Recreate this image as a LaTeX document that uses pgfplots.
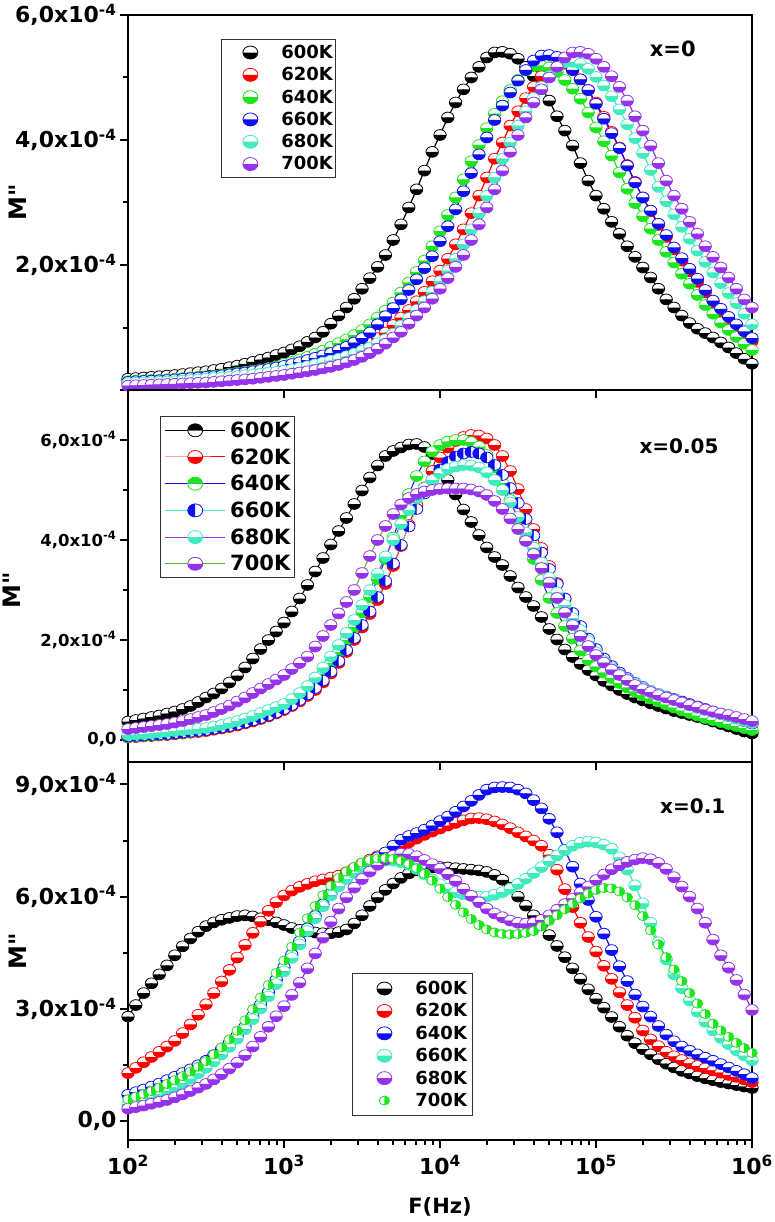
\documentclass[border=0pt]{standalone}
\usepackage{fontspec}
\setmainfont{DejaVu Sans}
\usepackage{pgfplots}
\pgfplotsset{compat=1.18}
\usepackage{pgfplotstable}
\usetikzlibrary{plotmarks}
\definecolor{cred}{RGB}{255,0,0}
\definecolor{cgreen}{RGB}{30,230,30}
\definecolor{cblue}{RGB}{15,15,245}
\definecolor{ccyan}{RGB}{64,235,190}
\definecolor{cpurple}{RGB}{150,50,235}
\definecolor{colive}{RGB}{100,170,40}
\newcommand{\yl}[1]{#1x10\textsuperscript{-4}}
\newcommand{\Mpp}{{\addfontfeature{Ligatures=TeXOff}M"}}

% M'' in units of 1e-4 ; F in Hz
\pgfplotstableread{
F K600 K620 K640 K660 K680 K700
1.000e2 0.18 0.11 0.14 0.13 0.11 0.07
1.122e2 0.19 0.115 0.15 0.14 0.115 0.075
1.259e2 0.20 0.12 0.15 0.145 0.12 0.08
1.413e2 0.21 0.125 0.16 0.15 0.125 0.085
1.585e2 0.22 0.13 0.16 0.155 0.13 0.09
1.778e2 0.23 0.135 0.17 0.16 0.135 0.095
1.995e2 0.24 0.14 0.18 0.17 0.14 0.10
2.239e2 0.255 0.15 0.19 0.18 0.15 0.105
2.512e2 0.27 0.155 0.20 0.19 0.16 0.11
2.818e2 0.285 0.16 0.21 0.20 0.17 0.115
3.162e2 0.30 0.17 0.22 0.21 0.18 0.12
3.548e2 0.32 0.18 0.23 0.22 0.19 0.13
3.981e2 0.34 0.19 0.245 0.235 0.20 0.14
4.467e2 0.365 0.20 0.26 0.25 0.21 0.15
5.012e2 0.39 0.21 0.275 0.265 0.22 0.16
5.623e2 0.42 0.22 0.29 0.28 0.235 0.17
6.310e2 0.45 0.235 0.31 0.30 0.25 0.18
7.079e2 0.485 0.25 0.33 0.32 0.26 0.195
7.943e2 0.52 0.265 0.35 0.335 0.28 0.21
8.913e2 0.56 0.28 0.375 0.36 0.29 0.225
1.000e3 0.60 0.30 0.42 0.385 0.31 0.24
1.122e3 0.65 0.32 0.45 0.415 0.33 0.26
1.259e3 0.70 0.345 0.49 0.445 0.355 0.28
1.413e3 0.77 0.375 0.53 0.48 0.38 0.30
1.585e3 0.84 0.405 0.58 0.515 0.41 0.32
1.778e3 0.93 0.44 0.63 0.555 0.44 0.345
1.995e3 1.06 0.48 0.69 0.59 0.47 0.37
2.239e3 1.19 0.52 0.75 0.64 0.50 0.40
2.512e3 1.32 0.57 0.81 0.69 0.54 0.44
2.818e3 1.46 0.62 0.88 0.76 0.58 0.48
3.162e3 1.62 0.68 0.96 0.83 0.63 0.53
3.548e3 1.79 0.75 1.05 0.92 0.68 0.59
3.981e3 1.97 0.83 1.16 1.05 0.75 0.66
4.467e3 2.16 0.92 1.27 1.18 0.81 0.74
5.012e3 2.40 1.04 1.40 1.31 0.90 0.84
5.623e3 2.65 1.16 1.56 1.45 1.03 0.93
6.310e3 2.92 1.28 1.72 1.60 1.15 1.06
7.079e3 3.21 1.42 1.89 1.77 1.28 1.19
7.943e3 3.51 1.57 2.07 1.95 1.42 1.32
8.913e3 3.81 1.74 2.30 2.14 1.57 1.46
1.000e4 4.08 1.91 2.54 2.38 1.74 1.62
1.122e4 4.36 2.10 2.80 2.62 1.91 1.79
1.259e4 4.60 2.33 3.08 2.89 2.10 1.97
1.413e4 4.81 2.57 3.37 3.18 2.33 2.16
1.585e4 5.00 2.83 3.66 3.47 2.57 2.40
1.778e4 5.17 3.11 3.92 3.77 2.83 2.65
1.995e4 5.32 3.40 4.19 4.04 3.11 2.92
2.239e4 5.40 3.70 4.42 4.32 3.40 3.21
2.512e4 5.41 3.96 4.62 4.55 3.70 3.51
2.818e4 5.38 4.23 4.80 4.76 3.96 3.81
3.162e4 5.30 4.46 4.96 4.95 4.23 4.08
3.548e4 5.17 4.67 5.11 5.12 4.46 4.36
3.981e4 5.02 4.85 5.18 5.27 4.67 4.60
4.467e4 4.85 5.02 5.19 5.35 4.85 4.81
5.012e4 4.63 5.16 5.16 5.36 5.02 5.00
5.623e4 4.38 5.24 5.09 5.33 5.16 5.17
6.310e4 4.15 5.22 4.96 5.25 5.24 5.32
7.079e4 3.91 5.12 4.82 5.12 5.25 5.40
7.943e4 3.63 4.97 4.66 4.97 5.22 5.41
8.913e4 3.35 4.80 4.44 4.80 5.14 5.38
1.000e5 3.11 4.60 4.20 4.58 5.01 5.30
1.122e5 2.90 4.37 3.98 4.34 4.87 5.17
1.259e5 2.69 4.13 3.75 4.11 4.70 5.02
1.413e5 2.50 3.88 3.48 3.87 4.49 4.85
1.585e5 2.30 3.60 3.22 3.59 4.25 4.63
1.778e5 2.13 3.33 2.99 3.32 4.03 4.38
1.995e5 1.96 3.08 2.78 3.08 3.79 4.15
2.239e5 1.80 2.86 2.58 2.87 3.52 3.91
2.512e5 1.62 2.64 2.40 2.66 3.25 3.63
2.818e5 1.45 2.45 2.21 2.48 3.02 3.35
3.162e5 1.32 2.25 2.04 2.28 2.81 3.11
3.548e5 1.19 2.07 1.86 2.11 2.61 2.90
3.981e5 1.07 1.90 1.70 1.94 2.42 2.69
4.467e5 0.98 1.73 1.52 1.78 2.23 2.50
5.012e5 0.91 1.56 1.36 1.60 2.05 2.30
5.623e5 0.84 1.40 1.22 1.43 1.88 2.13
6.310e5 0.76 1.26 1.08 1.30 1.71 1.96
7.079e5 0.68 1.13 0.96 1.17 1.55 1.80
7.943e5 0.59 1.00 0.85 1.05 1.39 1.62
8.913e5 0.50 0.89 0.74 0.94 1.22 1.45
1.000e6 0.42 0.78 0.64 0.83 1.05 1.32
}\tabA

\pgfplotstableread{
F K600 K620 K640 K660 K680 K700
1.000e2 0.37 0.05 0.06 0.07 0.10 0.22
1.122e2 0.40 0.06 0.07 0.08 0.11 0.24
1.259e2 0.43 0.07 0.08 0.09 0.12 0.26
1.413e2 0.46 0.08 0.09 0.10 0.135 0.28
1.585e2 0.49 0.09 0.10 0.11 0.15 0.30
1.778e2 0.53 0.10 0.115 0.12 0.165 0.32
1.995e2 0.57 0.115 0.13 0.135 0.18 0.35
2.239e2 0.62 0.13 0.145 0.15 0.195 0.38
2.512e2 0.68 0.145 0.16 0.165 0.21 0.42
2.818e2 0.76 0.16 0.18 0.18 0.225 0.46
3.162e2 0.85 0.18 0.205 0.20 0.24 0.50
3.548e2 0.93 0.205 0.23 0.225 0.27 0.56
3.981e2 1.03 0.23 0.26 0.25 0.30 0.62
4.467e2 1.15 0.26 0.29 0.28 0.34 0.69
5.012e2 1.29 0.29 0.33 0.31 0.38 0.77
5.623e2 1.45 0.33 0.37 0.35 0.43 0.85
6.310e2 1.63 0.37 0.42 0.39 0.48 0.94
7.079e2 1.82 0.42 0.47 0.44 0.54 1.03
7.943e2 2.00 0.47 0.53 0.49 0.60 1.12
8.913e2 2.17 0.53 0.60 0.55 0.66 1.21
1.000e3 2.35 0.60 0.68 0.62 0.72 1.30
1.122e3 2.57 0.68 0.77 0.70 0.82 1.42
1.259e3 2.83 0.77 0.88 0.80 0.94 1.54
1.413e3 3.10 0.88 1.00 0.91 1.08 1.67
1.585e3 3.37 1.00 1.15 1.04 1.25 1.87
1.778e3 3.64 1.15 1.33 1.19 1.45 2.08
1.995e3 3.91 1.33 1.54 1.37 1.67 2.30
2.239e3 4.18 1.54 1.76 1.58 1.90 2.53
2.512e3 4.44 1.76 2.00 1.80 2.14 2.76
2.818e3 4.72 2.00 2.26 2.04 2.40 3.00
3.162e3 4.99 2.25 2.55 2.30 2.70 3.34
3.548e3 5.25 2.52 2.86 2.57 3.00 3.68
3.981e3 5.49 2.80 3.22 2.86 3.33 4.00
4.467e3 5.68 3.12 3.62 3.18 3.67 4.28
5.012e3 5.78 3.48 4.05 3.53 4.00 4.52
5.623e3 5.85 3.88 4.50 3.90 4.32 4.71
6.310e3 5.91 4.30 4.92 4.27 4.60 4.84
7.079e3 5.92 4.70 5.28 4.62 4.84 4.92
7.943e3 5.86 5.05 5.57 4.93 5.04 4.97
8.913e3 5.72 5.38 5.77 5.20 5.20 5.00
1.000e4 5.50 5.65 5.90 5.41 5.33 5.02
1.122e4 5.20 5.85 5.97 5.56 5.42 5.03
1.259e4 4.91 5.98 6.00 5.67 5.47 5.03
1.413e4 4.61 6.06 6.00 5.73 5.50 5.03
1.585e4 4.36 6.10 5.96 5.76 5.49 5.01
1.778e4 4.10 6.09 5.87 5.73 5.45 4.97
1.995e4 3.85 6.03 5.70 5.65 5.35 4.90
2.239e4 3.66 5.90 5.45 5.50 5.20 4.78
2.512e4 3.50 5.68 5.14 5.30 5.00 4.62
2.818e4 3.28 5.38 4.80 5.04 4.75 4.43
3.162e4 3.05 5.02 4.42 4.74 4.46 4.22
3.548e4 2.86 4.62 4.02 4.42 4.15 3.98
3.981e4 2.68 4.22 3.62 4.09 3.85 3.72
4.467e4 2.46 3.84 3.20 3.75 3.55 3.44
5.012e4 2.22 3.48 2.84 3.42 3.25 3.15
5.623e4 2.01 3.14 2.54 3.12 2.95 2.84
6.310e4 1.81 2.82 2.28 2.83 2.70 2.55
7.079e4 1.66 2.52 2.03 2.54 2.44 2.30
7.943e4 1.52 2.25 1.79 2.28 2.20 2.08
8.913e4 1.40 2.00 1.60 2.03 1.98 1.88
1.000e5 1.29 1.79 1.47 1.82 1.75 1.70
1.122e5 1.18 1.61 1.35 1.63 1.58 1.55
1.259e5 1.09 1.46 1.24 1.48 1.44 1.41
1.413e5 1.00 1.33 1.14 1.35 1.32 1.30
1.585e5 0.92 1.22 1.05 1.24 1.22 1.20
1.778e5 0.85 1.13 0.97 1.14 1.13 1.10
1.995e5 0.79 1.05 0.90 1.06 1.05 1.02
2.239e5 0.73 0.97 0.83 0.98 0.98 0.96
2.512e5 0.68 0.91 0.77 0.92 0.92 0.90
2.818e5 0.63 0.86 0.71 0.87 0.86 0.85
3.162e5 0.58 0.81 0.65 0.82 0.81 0.80
3.548e5 0.54 0.76 0.59 0.77 0.75 0.75
3.981e5 0.50 0.71 0.54 0.72 0.69 0.70
4.467e5 0.46 0.66 0.49 0.67 0.64 0.66
5.012e5 0.42 0.61 0.44 0.62 0.60 0.61
5.623e5 0.37 0.56 0.40 0.57 0.56 0.57
6.310e5 0.32 0.51 0.36 0.52 0.52 0.53
7.079e5 0.27 0.47 0.32 0.48 0.48 0.50
7.943e5 0.22 0.42 0.28 0.43 0.43 0.46
8.913e5 0.17 0.37 0.24 0.38 0.38 0.42
1.000e6 0.13 0.32 0.20 0.33 0.34 0.38
}\tabB

\pgfplotstableread{
F K600 K620 K640 K660 K680 K700
1.000e2 2.79 1.28 0.70 0.45 0.33 0.58
1.122e2 3.10 1.42 0.77 0.50 0.37 0.65
1.259e2 3.42 1.57 0.84 0.56 0.41 0.72
1.413e2 3.68 1.71 0.92 0.63 0.46 0.80
1.585e2 3.92 1.85 1.00 0.71 0.51 0.89
1.778e2 4.16 1.99 1.09 0.80 0.56 0.99
1.995e2 4.43 2.14 1.18 0.90 0.63 1.09
2.239e2 4.67 2.35 1.28 1.01 0.71 1.20
2.512e2 4.88 2.58 1.38 1.13 0.80 1.32
2.818e2 5.06 2.84 1.49 1.27 0.89 1.45
3.162e2 5.21 3.12 1.61 1.42 0.99 1.60
3.548e2 5.31 3.42 1.76 1.59 1.11 1.78
3.981e2 5.38 3.73 1.92 1.78 1.25 1.97
4.467e2 5.43 4.04 2.09 1.98 1.40 2.18
5.012e2 5.48 4.37 2.28 2.20 1.56 2.41
5.623e2 5.50 4.71 2.52 2.45 1.76 2.69
6.310e2 5.47 5.03 2.80 2.72 1.99 2.99
7.079e2 5.42 5.33 3.11 3.01 2.25 3.30
7.943e2 5.37 5.62 3.44 3.33 2.52 3.63
8.913e2 5.31 5.85 3.78 3.66 2.80 3.96
1.000e3 5.24 6.03 4.11 4.00 3.07 4.29
1.122e3 5.16 6.16 4.45 4.36 3.37 4.66
1.259e3 5.11 6.26 4.80 4.72 3.70 5.04
1.413e3 5.07 6.34 5.15 5.08 4.08 5.42
1.585e3 5.04 6.41 5.48 5.42 4.48 5.75
1.778e3 5.02 6.46 5.79 5.74 4.90 6.04
1.995e3 5.02 6.51 6.08 6.03 5.33 6.29
2.239e3 5.05 6.56 6.32 6.27 5.68 6.50
2.512e3 5.12 6.65 6.51 6.47 5.98 6.67
2.818e3 5.28 6.76 6.67 6.63 6.24 6.80
3.162e3 5.50 6.88 6.81 6.76 6.47 6.91
3.548e3 5.75 6.99 6.93 6.86 6.67 6.98
3.981e3 5.98 7.08 7.05 6.93 6.85 7.02
4.467e3 6.18 7.17 7.18 6.96 6.99 7.03
5.012e3 6.35 7.26 7.36 6.96 7.09 7.01
5.623e3 6.50 7.35 7.52 6.92 7.15 6.96
6.310e3 6.62 7.45 7.62 6.85 7.14 6.87
7.079e3 6.70 7.55 7.70 6.74 7.08 6.76
7.943e3 6.75 7.65 7.79 6.60 6.98 6.61
8.913e3 6.78 7.74 7.90 6.46 6.87 6.43
1.000e4 6.79 7.82 8.02 6.33 6.75 6.21
1.122e4 6.78 7.90 8.14 6.21 6.60 5.99
1.259e4 6.76 7.97 8.27 6.12 6.42 5.78
1.413e4 6.74 8.04 8.41 6.06 6.21 5.58
1.585e4 6.72 8.09 8.56 6.02 6.02 5.40
1.778e4 6.70 8.10 8.72 6.00 5.85 5.24
1.995e4 6.66 8.07 8.86 6.00 5.68 5.12
2.239e4 6.58 8.01 8.92 6.05 5.55 5.04
2.512e4 6.45 7.93 8.93 6.12 5.45 5.00
2.818e4 6.24 7.83 8.92 6.21 5.36 4.99
3.162e4 6.00 7.72 8.86 6.34 5.30 5.00
3.548e4 5.76 7.61 8.76 6.48 5.28 5.03
3.981e4 5.50 7.50 8.58 6.63 5.30 5.08
4.467e4 5.25 7.36 8.36 6.79 5.38 5.20
5.012e4 4.97 7.12 8.08 6.95 5.50 5.35
5.623e4 4.68 6.72 7.72 7.10 5.65 5.50
6.310e4 4.38 6.20 7.25 7.24 5.80 5.66
7.079e4 4.08 5.72 6.80 7.36 5.95 5.81
7.943e4 3.80 5.30 6.35 7.44 6.11 5.95
8.913e4 3.52 4.92 5.91 7.47 6.27 6.08
1.000e5 3.27 4.53 5.46 7.45 6.44 6.18
1.122e5 3.03 4.15 5.01 7.39 6.59 6.23
1.259e5 2.78 3.80 4.57 7.28 6.73 6.22
1.413e5 2.52 3.44 4.14 7.05 6.84 6.14
1.585e5 2.28 3.10 3.74 6.72 6.93 5.98
1.778e5 2.08 2.76 3.38 6.30 6.99 5.77
1.995e5 1.92 2.42 3.06 5.82 7.03 5.48
2.239e5 1.78 2.18 2.79 5.30 7.00 5.10
2.512e5 1.65 2.00 2.54 4.78 6.90 4.72
2.818e5 1.53 1.85 2.31 4.32 6.74 4.38
3.162e5 1.43 1.73 2.13 3.92 6.52 4.05
3.548e5 1.34 1.63 1.99 3.55 6.27 3.74
3.981e5 1.27 1.54 1.88 3.22 6.00 3.42
4.467e5 1.20 1.47 1.78 2.92 5.68 3.14
5.012e5 1.14 1.41 1.69 2.65 5.30 2.86
5.623e5 1.09 1.35 1.61 2.42 4.85 2.60
6.310e5 1.04 1.29 1.52 2.22 4.43 2.42
7.079e5 1.00 1.23 1.43 2.05 4.10 2.25
7.943e5 0.96 1.18 1.34 1.89 3.77 2.09
8.913e5 0.92 1.11 1.25 1.75 3.38 1.95
1.000e6 0.88 1.04 1.15 1.62 2.97 1.82
}\tabC

\pgfplotsset{
  hc/.style={mark=halfcircle*, mark size=5.4pt,
    mark options={draw=#1, fill=white, mark color=#1, line width=0.8pt, solid, xscale=1.15}},
  hcD/.style={mark=halfcircle*, mark size=5.4pt,
    mark options={draw=#1, fill=white, mark color=#1, line width=0.8pt, solid, xscale=1.15, rotate=180}},
  hcL/.style={mark=halfcircle*, mark size=5.4pt,
    mark options={draw=#1, fill=white, mark color=#1, line width=0.8pt, solid, xscale=1.15, rotate=90}},
  hcR/.style={mark=halfcircle*, mark size=5.4pt,
    mark options={draw=#1, fill=white, mark color=#1, line width=0.8pt, solid, xscale=1.15, rotate=-90}},
}

\begin{document}
\begin{tikzpicture}
\path[use as bounding box] (0pt,0pt) rectangle (774pt,-1222pt);

% ---------------- panel 1 : x=0 ----------------
\begin{axis}[xmode=log, xmin=100, xmax=1e6,
  scale only axis, width=624pt, height=375pt,
  at={(128pt,-390pt)}, anchor=south west,
  axis line style={line width=2.6pt},
  tick style={black, line width=2pt},
  tick align=outside, tick pos=left,
  major tick length=8pt, minor tick length=5pt,
  minor x tick style={draw=none},
  axis on top,
  ymin=0, ymax=6,
  ytick={0,2,4,6}, yticklabels={,{\yl{2,0}},{\yl{4,0}},{\yl{6,0}}},
  minor ytick={1,3,5},
  yticklabel style={font=\fontsize{22}{22}\selectfont\bfseries},
  xtick={1e3,1e4,1e5}, xticklabels={,,},
  ylabel={\Mpp},
  ylabel style={at={(axis description cs:-0.176,0.5)}, anchor=center, font=\fontsize{24}{24}\selectfont\bfseries},
  legend cell align=left,
  legend image code/.code={\path[draw=none,fill=none] (0pt,-11.15pt) rectangle (55pt,11.15pt);
      \path[#1, draw=none, mark repeat=2, mark phase=2] plot coordinates {(0pt,0pt)(29pt,0pt)(58pt,0pt)};},
  legend style={at={(0.149,0.936)}, anchor=north west, draw=black!80, line width=0.8pt,
     inner xsep=0pt, inner ysep=2pt, row sep=0pt,
     font=\fontsize{18}{18}\selectfont\bfseries},
]
\addplot[black, line width=1.2pt, hc=black, forget plot] table[x=F,y=K600]{\tabA};
\addplot[cred, line width=1.2pt, hc=cred, forget plot] table[x=F,y=K620]{\tabA};
\addplot[cgreen, line width=1.2pt, hc=cgreen, forget plot] table[x=F,y=K640]{\tabA};
\addplot[cblue, line width=1.2pt, hc=cblue, forget plot] table[x=F,y=K660]{\tabA};
\addplot[ccyan, line width=1.2pt, hc=ccyan, forget plot] table[x=F,y=K680]{\tabA};
\addplot[cpurple, line width=1.2pt, hc=cpurple, forget plot] table[x=F,y=K700]{\tabA};
\addlegendimage{hc=black, mark size=6.5pt}\addlegendentry{600K}
\addlegendimage{hc=cred, mark size=6.5pt}\addlegendentry{620K}
\addlegendimage{hc=cgreen, mark size=6.5pt}\addlegendentry{640K}
\addlegendimage{hc=cblue, mark size=6.5pt}\addlegendentry{660K}
\addlegendimage{hc=ccyan, mark size=6.5pt}\addlegendentry{680K}
\addlegendimage{hc=cpurple, mark size=6.5pt}\addlegendentry{700K}
\node[font=\fontsize{21}{21}\selectfont\bfseries] at (rel axis cs:0.873,0.909) {x=0};
\end{axis}

% ---------------- panel 2 : x=0.05 ----------------
\begin{axis}[xmode=log, xmin=100, xmax=1e6,
  scale only axis, width=624pt, height=372pt,
  at={(128pt,-762pt)}, anchor=south west,
  axis line style={line width=2.6pt},
  tick style={black, line width=2pt},
  tick align=outside, tick pos=left,
  major tick length=8pt, minor tick length=5pt,
  minor x tick style={draw=none},
  axis on top,
  ymin=-0.44, ymax=7.0,
  ytick={0,2,4,6}, yticklabels={{0,0},{\yl{2,0}},{\yl{4,0}},{\yl{6,0}}},
  minor ytick={1,3,5},
  yticklabel style={font=\fontsize{16.5}{16.5}\selectfont\bfseries},
  xtick={1e3,1e4,1e5}, xticklabels={,,},
  ylabel={\Mpp},
  ylabel style={at={(axis description cs:-0.186,0.462)}, anchor=center, font=\fontsize{24}{24}\selectfont\bfseries},
  legend cell align=left,
  legend image code/.code={\path[draw=none,fill=none] (0pt,-13.35pt) rectangle (66pt,13.35pt);
      \draw[#1, mark repeat=2, mark phase=2] plot coordinates {(3pt,0pt)(33pt,0pt)(63pt,0pt)};},
  legend style={at={(0.051,0.930)}, anchor=north west, draw=black!80, line width=0.8pt,
     inner xsep=2pt, inner ysep=0.5pt, row sep=0pt,
     font=\fontsize{21}{21}\selectfont\bfseries},
]
\addplot[black, line width=1pt, hc=black, forget plot] table[x=F,y=K600]{\tabB};
\addplot[cred, line width=1pt, hc=cred, forget plot] table[x=F,y=K620]{\tabB};
\addplot[cblue, line width=1pt, hc=cgreen, forget plot] table[x=F,y=K640]{\tabB};
\addplot[ccyan, line width=0.7pt, hcR=cblue, forget plot] table[x=F,y=K660]{\tabB};
\addplot[cpurple, line width=1pt, hc=ccyan, forget plot] table[x=F,y=K680]{\tabB};
\addplot[colive, line width=1pt, hc=cpurple, forget plot] table[x=F,y=K700]{\tabB};
\addlegendimage{black, line width=1pt, hcD=black, mark size=6.5pt}\addlegendentry{600K}
\addlegendimage{cred, line width=1pt, hc=cred, mark size=6.5pt}\addlegendentry{620K}
\addlegendimage{cblue, line width=1pt, hcD=cgreen, mark size=6.5pt}\addlegendentry{640K}
\addlegendimage{ccyan, line width=0.6pt, hcR=cblue, mark size=6.5pt}\addlegendentry{660K}
\addlegendimage{cpurple, line width=1pt, hc=ccyan, mark size=6.5pt}\addlegendentry{680K}
\addlegendimage{colive, line width=1pt, hc=cpurple, mark size=6.5pt}\addlegendentry{700K}
\node[font=\fontsize{20}{20}\selectfont\bfseries] at (rel axis cs:0.883,0.849) {x=0.05};
\end{axis}

% ---------------- panel 3 : x=0.1 ----------------
\begin{axis}[xmode=log, xmin=100, xmax=1e6,
  scale only axis, width=624pt, height=378pt,
  at={(128pt,-1140pt)}, anchor=south west,
  axis line style={line width=2.6pt},
  tick style={black, line width=2pt},
  tick align=outside, tick pos=left,
  major tick length=8pt, minor tick length=5pt,
  axis on top,
  ymin=-0.51, ymax=9.6,
  ytick={0,3,6,9}, yticklabels={{0,0},{\yl{3,0}},{\yl{6,0}},{\yl{9,0}}},
  minor ytick={1.5,4.5,7.5},
  yticklabel style={font=\fontsize{22}{22}\selectfont\bfseries},
  xtick={1e2,1e3,1e4,1e5,1e6},
  xticklabels={10\textsuperscript{2},10\textsuperscript{3},10\textsuperscript{4},10\textsuperscript{5},10\textsuperscript{6}},
  xticklabel style={font=\fontsize{22}{22}\selectfont\bfseries, yshift=-4pt},
  minor xtick={200,300,400,500,600,700,800,900,2000,3000,4000,5000,6000,7000,8000,9000,
     20000,30000,40000,50000,60000,70000,80000,90000,200000,300000,400000,500000,600000,700000,800000,900000},
  ylabel={\Mpp},
  ylabel style={at={(axis description cs:-0.176,0.5)}, anchor=center, font=\fontsize{24}{24}\selectfont\bfseries},
  xlabel={F(Hz)},
  xlabel style={at={(axis description cs:0.5,-0.177)}, anchor=center, font=\fontsize{21}{21}\selectfont\bfseries},
  legend cell align=left,
  legend image code/.code={\path[draw=none,fill=none] (0pt,-11.2pt) rectangle (57pt,11.2pt);
      \path[#1, draw=none, mark repeat=2, mark phase=2] plot coordinates {(0pt,0pt)(29pt,0pt)(58pt,0pt)};},
  legend style={at={(0.359,0.442)}, anchor=north west, draw=black!80, line width=0.8pt,
     inner xsep=3pt, inner ysep=4pt, row sep=0pt,
     font=\fontsize{18}{18}\selectfont\bfseries},
]
\addplot[black, line width=1.2pt, hc=black, forget plot] table[x=F,y=K600]{\tabC};
\addplot[cred, line width=1.2pt, hc=cred, forget plot] table[x=F,y=K620]{\tabC};
\addplot[cblue, line width=1.2pt, hc=cblue, forget plot] table[x=F,y=K640]{\tabC};
\addplot[ccyan, line width=1.2pt, hc=ccyan, forget plot] table[x=F,y=K660]{\tabC};
\addplot[cpurple, line width=1.2pt, hc=cpurple, forget plot] table[x=F,y=K680]{\tabC};
\addplot[cgreen, line width=1.2pt, hcL=cgreen, mark size=4.6pt, forget plot] table[x=F,y=K700]{\tabC};
\addlegendimage{hc=black, mark size=6.5pt}\addlegendentry{600K}
\addlegendimage{hc=cred, mark size=6.5pt}\addlegendentry{620K}
\addlegendimage{hc=cblue, mark size=6.5pt}\addlegendentry{640K}
\addlegendimage{hc=ccyan, mark size=6.5pt}\addlegendentry{660K}
\addlegendimage{hc=cpurple, mark size=6.5pt}\addlegendentry{680K}
\addlegendimage{hcL=cgreen, mark size=4.5pt}\addlegendentry{700K}
\node[font=\fontsize{20}{20}\selectfont\bfseries] at (rel axis cs:0.905,0.884) {x=0.1};
\end{axis}
\end{tikzpicture}
\end{document}
